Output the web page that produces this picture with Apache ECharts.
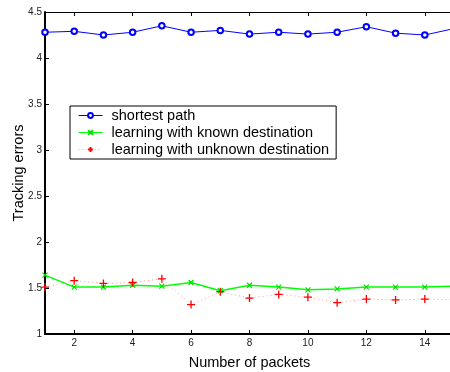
<!DOCTYPE html>
<html>
<head>
<meta charset="utf-8">
<script src="https://cdn.jsdelivr.net/npm/echarts@6/dist/echarts.min.js"></script>
<style>
  html, body { margin: 0; padding: 0; background: #fff; }
  #chart { width: 450px; height: 372px; }
</style>
</head>
<body>
<div id="chart"></div>
<script>
// Number of packets (x)
const packets = [1, 2, 3, 4, 5, 6, 7, 8, 9, 10, 11, 12, 13, 14, 15];
// Tracking errors per method
const shortestPath = [4.28, 4.29, 4.25, 4.28, 4.35, 4.28, 4.30, 4.26, 4.28, 4.26, 4.28, 4.34, 4.27, 4.25, 4.32];
const knownDest    = [1.64, 1.51, 1.51, 1.53, 1.52, 1.56, 1.47, 1.53, 1.51, 1.48, 1.49, 1.51, 1.51, 1.51, 1.52];
const unknownDest  = [1.51, 1.58, 1.55, 1.56, 1.60, 1.32, 1.46, 1.39, 1.43, 1.40, 1.34, 1.38, 1.37, 1.38, 1.37];
// Tick positions
const xTicks = [2, 4, 6, 8, 10, 12, 14];

const seriesNames = ['shortest path', 'learning with known destination', 'learning with unknown destination'];

const pair = (ys) => packets.map((x, i) => [x, ys[i]]);

const crossPath = 'path://M0,0L10,10M10,0L0,10';
const plusPath = 'path://M5,0L5,10M0,5L10,5';
const font = 'Liberation Sans, Arial, sans-serif';

const chart = echarts.init(document.getElementById('chart'), null, { renderer: 'canvas' });
chart.setOption({
  animation: false,
  backgroundColor: '#fff',
  textStyle: { fontFamily: font },
  grid: { left: 45, right: -4, top: 12, bottom: 38, outerBoundsMode: 'none', containLabel: false },
  legend: {
    left: 70, top: 106,
    orient: 'vertical',
    data: seriesNames,
    backgroundColor: '#fff',
    borderColor: '#000',
    borderWidth: 1,
    borderRadius: 0,
    padding: [1, 7, 1, 8],
    itemWidth: 24,
    itemHeight: 6,
    itemGap: 0,
    lineStyle: { width: 1 },
    textStyle: { fontSize: 14.5, lineHeight: 17, color: '#000', fontFamily: font, padding: [0, 0, 0, 4] }
  },
  xAxis: [{
    type: 'value', min: 1, max: 15,
    name: 'Number of packets', nameLocation: 'middle', nameGap: 21, nameMoveOverlap: false,
    nameTextStyle: { fontSize: 14.5, color: '#000' },
    axisLine: { show: true, onZero: false, lineStyle: { color: '#000', width: 2 } },
    axisTick: { show: true, inside: true, length: 4, customValues: xTicks, lineStyle: { color: '#000' } },
    axisLabel: { customValues: xTicks, fontSize: 10, color: '#222', margin: 4 },
    splitLine: { show: false }
  }, {
    type: 'value', min: 1, max: 15, position: 'top',
    axisLine: { show: true, onZero: false, lineStyle: { color: '#000', width: 1 } },
    axisTick: { show: true, inside: true, length: 4, customValues: xTicks, lineStyle: { color: '#000' } },
    axisLabel: { show: false },
    splitLine: { show: false }
  }],
  yAxis: {
    type: 'value', min: 1, max: 4.5, interval: 0.5,
    name: 'Tracking errors', nameLocation: 'middle', nameGap: 19, nameMoveOverlap: false,
    nameTextStyle: { fontSize: 14.5, color: '#000' },
    axisLine: { show: true, onZero: false, lineStyle: { color: '#000', width: 2 } },
    axisTick: { show: true, inside: true, length: 4, lineStyle: { color: '#000' } },
    axisLabel: { fontSize: 10, color: '#222', margin: 3 },
    splitLine: { show: false }
  },
  series: [{
    name: seriesNames[0], type: 'line', data: pair(shortestPath),
    symbol: 'emptyCircle', symbolSize: 5.5, showAllSymbol: true,
    itemStyle: { color: '#0000ff', borderColor: '#0000ff', borderWidth: 1 },
    lineStyle: { color: '#0000ff', width: 1 }
  }, {
    name: seriesNames[1], type: 'line', data: pair(knownDest),
    symbol: crossPath, symbolSize: 5, showAllSymbol: true,
    itemStyle: { color: 'none', borderColor: '#00dd00', borderWidth: 1.2 },
    lineStyle: { color: '#00ff00', width: 1.5 }
  }, {
    name: seriesNames[2], type: 'line', data: pair(unknownDest),
    symbol: plusPath, symbolSize: 8, showAllSymbol: true,
    itemStyle: { color: 'none', borderColor: '#ff0000', borderWidth: 1.3 },
    lineStyle: { color: '#ff9a9a', width: 1, type: [1, 3] }
  }]
});
</script>
</body>
</html>
